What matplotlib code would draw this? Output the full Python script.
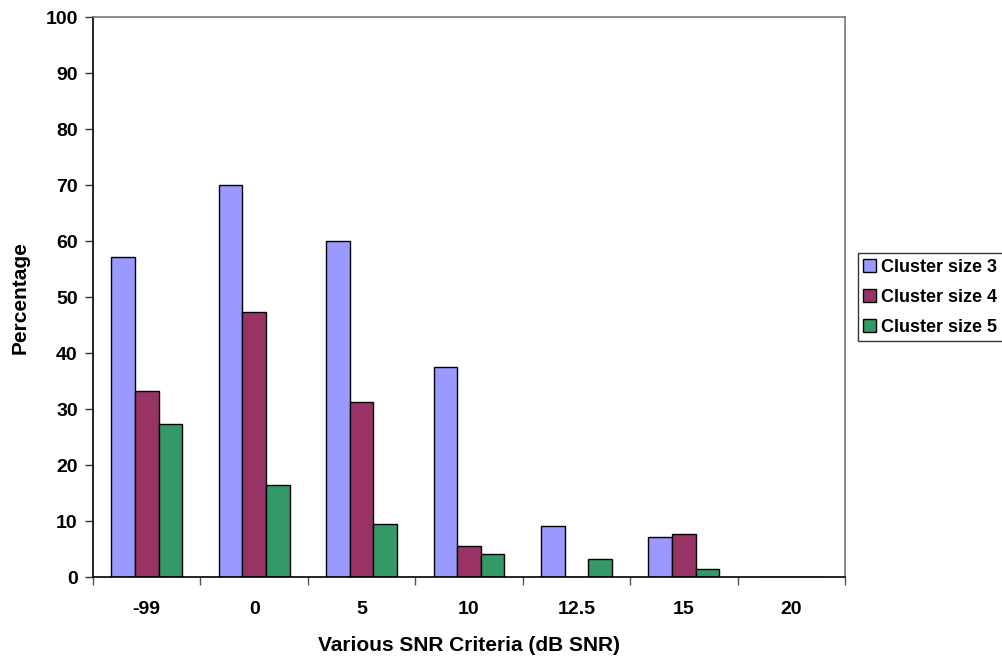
import matplotlib
matplotlib.use("Agg")
import matplotlib.pyplot as plt
import numpy as np

plt.rcParams['font.family'] = ['Liberation Sans', 'DejaVu Sans']
plt.rcParams['font.weight'] = 'bold'

categories = ["-99", "0", "5", "10", "12.5", "15", "20"]
series_names = ["Cluster size 3", "Cluster size 4", "Cluster size 5"]
cluster3 = [57.1, 70.0, 60.0, 37.5, 9.1, 7.1, 0]
cluster4 = [33.3, 47.4, 31.3, 5.5, 0, 7.7, 0]
cluster5 = [27.3, 16.5, 9.5, 4.2, 3.3, 1.4, 0]
colors = ["#9999FF", "#993366", "#339966"]
yticks = [0, 10, 20, 30, 40, 50, 60, 70, 80, 90, 100]

fig = plt.figure(figsize=(10.02, 6.58), dpi=100)
ax = fig.add_axes([0.0928, 0.123, 0.7505, 0.851])

x = np.arange(len(categories))
w = 0.22
for i, (vals, name, c) in enumerate(zip([cluster3, cluster4, cluster5], series_names, colors)):
    ax.bar(x + (i - 1) * w, vals, width=w, color=c, edgecolor='black', linewidth=1.0, label=name)

ax.set_xlim(-0.5, len(categories) - 0.5)
ax.set_ylim(0, 100)
ax.set_yticks(yticks)
ax.set_yticklabels([str(v) for v in yticks], fontsize=14, fontweight='bold')
ax.set_xticks(x)
ax.set_xticklabels(categories, fontsize=14, fontweight='bold')
ax.tick_params(axis='x', length=0, pad=17)
ax.set_xticks(np.arange(len(categories) + 1) - 0.5, minor=True)
ax.tick_params(axis='x', which='minor', length=6, width=1, color='#555555')
ax.tick_params(axis='y', length=6, width=1, direction='out', color='#333333', pad=5)

for s in ['top', 'right']:
    ax.spines[s].set_color('#777777')
    ax.spines[s].set_linewidth(1.2)
for s in ['left', 'bottom']:
    ax.spines[s].set_color('black')
    ax.spines[s].set_linewidth(1.2)

ax.set_xlabel("Various SNR Criteria (dB SNR)", fontsize=15, fontweight='bold', labelpad=13)
ax.set_ylabel("Percentage", fontsize=15, fontweight='bold', labelpad=11)

leg = fig.legend(loc='center left', bbox_to_anchor=(0.856, 0.548), frameon=True, fancybox=False,
                 edgecolor='black', fontsize=13, handlelength=0.7, handleheight=0.7,
                 handletextpad=0.3, borderpad=0.3, labelspacing=0.72, borderaxespad=0)
leg.get_frame().set_linewidth(1.0)
for t in leg.get_texts():
    t.set_fontweight('bold')

fig.savefig("out.png", dpi=100)
